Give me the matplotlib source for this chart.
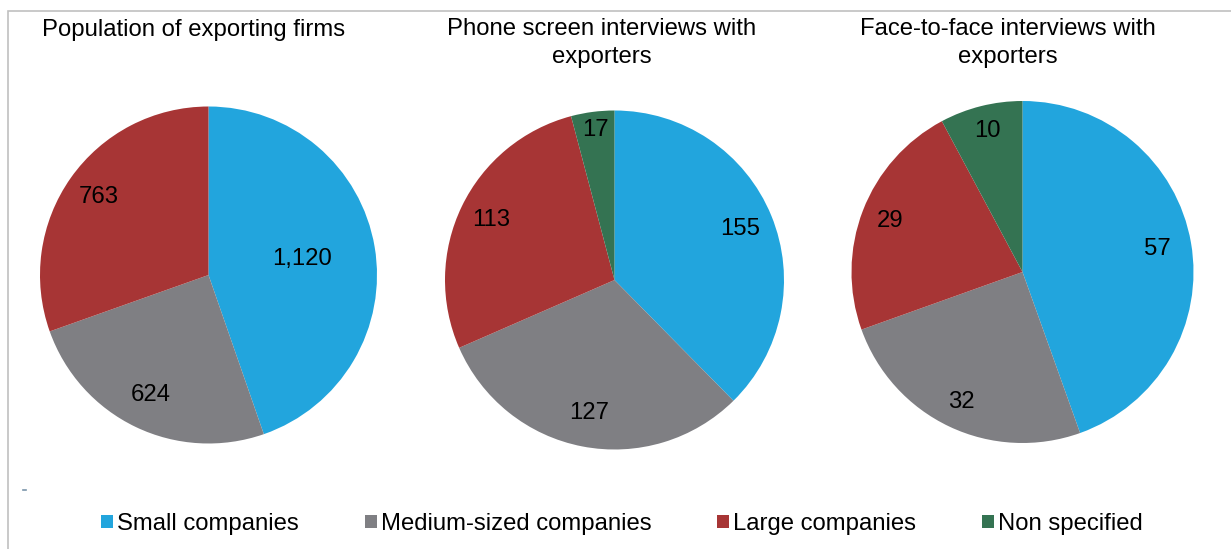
import matplotlib
matplotlib.use("Agg")
import matplotlib.pyplot as plt
from matplotlib.patches import Rectangle
from matplotlib.lines import Line2D
import numpy as np

plt.rcParams['font.family'] = ['Liberation Sans', 'DejaVu Sans']

categories = ["Small companies", "Medium-sized companies", "Large companies", "Non specified"]
colors = ["#22A5DD", "#7F7F83", "#A73535", "#347352"]

titles = ["Population of exporting firms",
          "Phone screen interviews with\nexporters",
          "Face-to-face interviews with\nexporters"]

population = [1120, 624, 763, 0]
phone = [155, 127, 113, 17]
face = [57, 32, 29, 10]
series = [population, phone, face]

# label radial fractions per wedge
label_r = [[0.56, 0.79, 0.80, 0.8],
           [0.80, 0.80, 0.81, 0.89],
           [0.80, 0.84, 0.83, 0.85]]

FS = 17.2
W, H = 1231, 549
fig = plt.figure(figsize=(W / 100, H / 100), dpi=100)

# pie geometry (pixels): center x, center y, radius
geom = [(208.5, 275, 168.5), (614.5, 280, 169.5), (1022.5, 272, 171)]
title_pos = [(194, 30), (602, 43), (1008, 43)]

for vals, (cx, cy, r), lr, title, (tx, ty) in zip(series, geom, label_r, titles, title_pos):
    ax = fig.add_axes([(cx - r) / W, (H - cy - r) / H, 2 * r / W, 2 * r / H])
    wedges, _ = ax.pie(vals, colors=colors, startangle=90, counterclock=False,
                       radius=1.0, wedgeprops=dict(linewidth=0))
    for w, v, f in zip(wedges, vals, lr):
        if v == 0:
            continue
        ang = np.deg2rad((w.theta1 + w.theta2) / 2)
        ax.text(f * np.cos(ang), f * np.sin(ang), f"{v:,}", ha="center", va="center",
                fontsize=FS, color="black")
    ax.set_xlim(-1, 1)
    ax.set_ylim(-1, 1)
    ax.set_aspect("equal")
    ax.axis("off")
    fig.text(tx / W, 1 - ty / H, title, ha="center", va="center", fontsize=FS,
             linespacing=1.3)

# frame
fig.add_artist(Rectangle((8 / W, -0.1), 1.2, 1 - 11 / H + 0.1, transform=fig.transFigure,
                         fill=False, edgecolor="#C0C0C0", linewidth=1.2))
fig.add_artist(Line2D([23 / W, 26 / W], [1 - 490 / H, 1 - 490 / H], transform=fig.transFigure,
                      color="#7A95AA", linewidth=1.2))

handles = [Rectangle((0, 0), 1, 1, facecolor=c) for c in colors]
fig.legend(handles, categories, loc="center", bbox_to_anchor=(622 / W, 1 - 524 / H), ncol=4,
           frameon=False, fontsize=FS, handlelength=0.5, handleheight=0.5,
           handletextpad=0.17, columnspacing=2.75)

fig.savefig("out.png", dpi=100)
